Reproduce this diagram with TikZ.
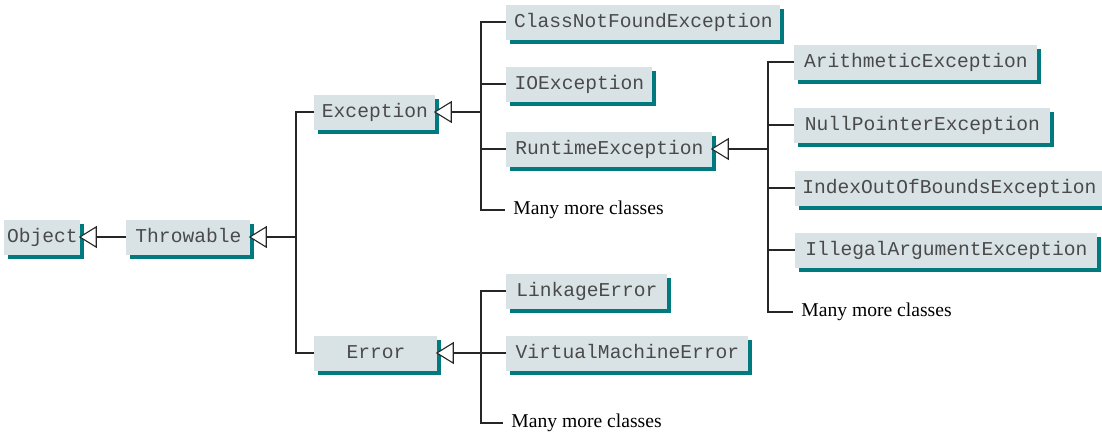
\documentclass[tikz,border=0pt]{standalone}
\usepackage{fontspec}
\setmainfont{Liberation Serif}
\setmonofont{Liberation Mono}
\usetikzlibrary{shadows,arrows.meta}
\definecolor{boxfill}{HTML}{D9E3E6}
\definecolor{boxshadow}{HTML}{00797F}
\definecolor{txt}{HTML}{4A4A4A}
\begin{document}
\begin{tikzpicture}[x=0.5pt,y=-0.5pt,
  cls/.style={anchor=west, fill=boxfill, inner sep=0pt, minimum height=17.5pt,
    text height=7pt, text depth=2pt,
    font=\ttfamily\fontsize{9.8}{12}\selectfont, text=txt,
    drop shadow={shadow xshift=2pt, shadow yshift=-2pt, fill=boxshadow, opacity=1}},
  more/.style={anchor=west, inner xsep=4pt, inner ysep=0pt,
    font=\rmfamily\fontsize{9.8}{12}\selectfont, text=black},
  conn/.style={line width=0.55pt, draw=black!85},
  inh/.style={conn, shorten >=-1pt, -{Triangle[open, length=9pt, width=11pt, fill=white]}}]
\useasboundingbox (0,0) rectangle (1102,435);

% class boxes
\node[cls, minimum width=38pt]  (Object)    at (4,237)   {Object};
\node[cls, minimum width=62pt]  (Throwable) at (126,237) {Throwable};
\node[cls, minimum width=60.5pt](Exception) at (314,112) {Exception};
\node[cls, minimum width=61.5pt](Error)     at (314,353) {Error};
\node[cls, minimum width=137pt] (CNF)       at (506,22)  {ClassNotFoundException};
\node[cls, minimum width=73pt]  (IO)        at (506,84)  {IOException};
\node[cls, minimum width=103pt] (Runtime)   at (506,149) {RuntimeException};
\node[cls, minimum width=80.5pt](Linkage)   at (506,291) {LinkageError};
\node[cls, minimum width=121pt] (VM)        at (506,353) {VirtualMachineError};
\node[cls, minimum width=121.5pt](Arith)    at (794,62)  {ArithmeticException};
\node[cls, minimum width=128pt] (NullP)     at (794,125) {NullPointerException};
\node[cls, minimum width=154pt] (Index)     at (795,188) {IndexOutOfBoundsException};
\node[cls, minimum width=151pt] (Illegal)   at (795,250) {IllegalArgumentException};

% "many more" labels
\node[more] (emore)  at (505,210) {Many more classes};
\node[more] (rmore)  at (793,312) {Many more classes};
\node[more] (ermore) at (503,423) {Many more classes};

% Throwable level
\coordinate (tv1) at (296,112);
\coordinate (tv2) at (296,353);
\draw[inh] (Throwable.west) -- (Object.east);
\draw[inh] (Throwable.east -| tv1) -- (Throwable.east);
\draw[conn] (Exception.west) -- (tv1) -- (tv2) -- (Error.west);

% Exception level
\coordinate (etop) at (481,22);
\coordinate (ebot) at (481,210);
\draw[inh] (Exception.east -| etop) -- (Exception.east);
\draw[conn] (CNF.west) -- (etop) -- (ebot) -- (emore.west);
\draw[conn] (IO.west) -- (IO.west -| etop);
\draw[conn] (Runtime.west) -- (Runtime.west -| etop);

% RuntimeException level
\coordinate (rtop) at (768,62);
\coordinate (rbot) at (768,312);
\draw[inh] (Runtime.east -| rtop) -- (Runtime.east);
\draw[conn] (Arith.west) -- (rtop) -- (rbot) -- (rmore.west);
\draw[conn] (NullP.west) -- (NullP.west -| rtop);
\draw[conn] (Index.west) -- (Index.west -| rtop);
\draw[conn] (Illegal.west) -- (Illegal.west -| rtop);

% Error level
\coordinate (ertop) at (481,291);
\coordinate (erbot) at (481,423);
\draw[inh] (Error.east -| ertop) -- (Error.east);
\draw[conn] (Linkage.west) -- (ertop) -- (erbot) -- (ermore.west);
\draw[conn] (VM.west) -- (VM.west -| ertop);
\end{tikzpicture}
\end{document}
